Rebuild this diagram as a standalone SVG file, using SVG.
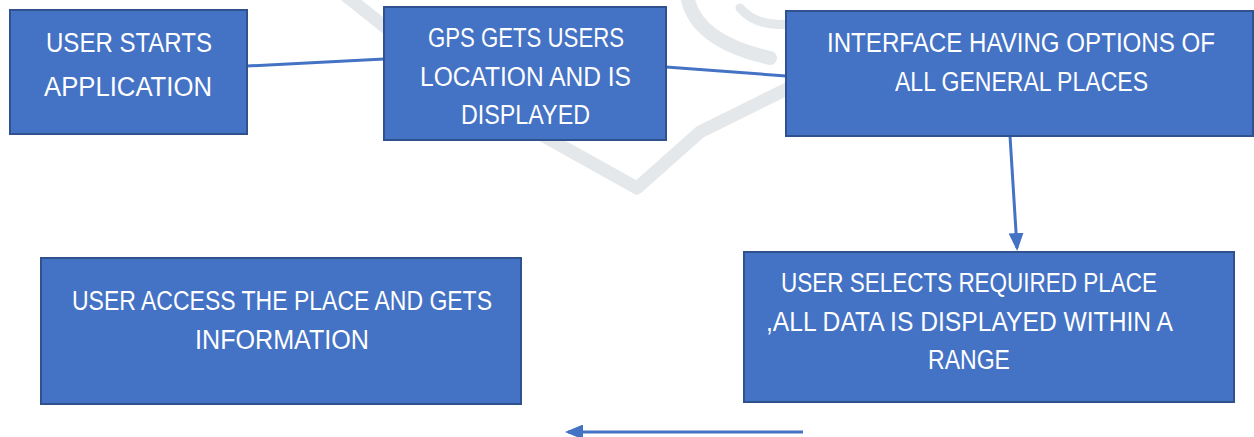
<svg xmlns="http://www.w3.org/2000/svg" width="1254" height="437" viewBox="0 0 1254 437">
<defs>
<style>
.box{fill:#4472C4;stroke:#2F528F;stroke-width:2}
.t{font-family:"Liberation Sans",Arial,sans-serif;font-size:27px;fill:#ffffff}
.c{stroke:#4472C4;stroke-width:3;fill:none}
.wm{stroke:#e5e8ea;fill:none;stroke-linecap:round;stroke-linejoin:round}
</style>
<marker id="ah" markerWidth="6" markerHeight="5" refX="5" refY="2.5" orient="auto" markerUnits="strokeWidth">
<path d="M0,0 L6,2.5 L0,5 Z" fill="#4472C4"/>
</marker>
</defs>
<rect width="1254" height="437" fill="#ffffff"/>
<g id="watermark">
<path class="wm" stroke-width="13" d="M345,-5 L470,95 L637,188 L700,132 L795,85"/>
<path class="wm" stroke-width="14" d="M688,0 C695,30 725,48 770,58"/>
<path class="wm" stroke-width="9" d="M740,8 C752,22 770,26 790,24"/>
</g>
<g id="connectors">
<line class="c" x1="247" y1="66" x2="384" y2="59"/>
<line class="c" x1="666" y1="67" x2="786" y2="76"/>
<line class="c" x1="1010" y1="136" x2="1017" y2="248" marker-end="url(#ah)"/>
<line class="c" x1="803" y1="432" x2="568" y2="432" marker-end="url(#ah)"/>
</g>
<g id="n1">
<rect class="box" x="10" y="10" width="237" height="124"/>
<text class="t" x="46" y="52" textLength="166" lengthAdjust="spacingAndGlyphs">USER STARTS</text>
<text class="t" x="44" y="96" textLength="168" lengthAdjust="spacingAndGlyphs">APPLICATION</text>
</g>
<g id="n2">
<rect class="box" x="384" y="7" width="282" height="133"/>
<text class="t" x="428" y="47" textLength="196" lengthAdjust="spacingAndGlyphs">GPS GETS USERS</text>
<text class="t" x="420" y="86" textLength="211" lengthAdjust="spacingAndGlyphs">LOCATION AND IS</text>
<text class="t" x="461" y="124" textLength="129" lengthAdjust="spacingAndGlyphs">DISPLAYED</text>
</g>
<g id="n3">
<rect class="box" x="786" y="11" width="467" height="125"/>
<text class="t" x="827" y="52" textLength="388" lengthAdjust="spacingAndGlyphs">INTERFACE HAVING OPTIONS OF</text>
<text class="t" x="895" y="91" textLength="253" lengthAdjust="spacingAndGlyphs">ALL GENERAL PLACES</text>
</g>
<g id="n4">
<rect class="box" x="41" y="258" width="480" height="146"/>
<text class="t" x="72" y="310" textLength="420" lengthAdjust="spacingAndGlyphs">USER ACCESS THE PLACE AND GETS</text>
<text class="t" x="195" y="349" textLength="174" lengthAdjust="spacingAndGlyphs">INFORMATION</text>
</g>
<g id="n5">
<rect class="box" x="744" y="252" width="490" height="150"/>
<text class="t" x="781" y="292" textLength="376" lengthAdjust="spacingAndGlyphs">USER SELECTS REQUIRED PLACE</text>
<text class="t" x="766" y="331" textLength="407" lengthAdjust="spacingAndGlyphs">,ALL DATA IS DISPLAYED WITHIN A</text>
<text class="t" x="928" y="369" textLength="82" lengthAdjust="spacingAndGlyphs">RANGE</text>
</g>
</svg>
